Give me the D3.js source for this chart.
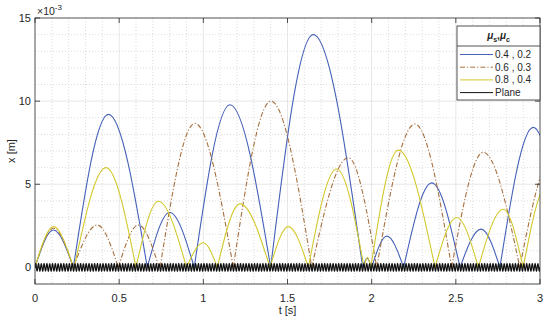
<!DOCTYPE html>
<html>
<head>
<meta charset="utf-8">
<script src="https://cdn.jsdelivr.net/npm/d3@7"></script>
<style>
body { margin: 0; background: #fff; }
text { font-family: "Liberation Sans", Arial, sans-serif; fill: #262626; }
</style>
</head>
<body>
<div id="chart"></div>
<script>
// arches: [start t, peak t, peak x (1e-3 m), end t]
const blueArches = [
  [0, 0.109, 2.25, 0.228],
  [0.228, 0.436, 9.2, 0.667],
  [0.667, 0.80, 3.3, 0.946],
  [0.946, 1.158, 9.78, 1.40],
  [1.40, 1.653, 14.0, 1.947],
  [1.947, 1.972, 0.55, 2.0],
  [2.0, 2.09, 1.88, 2.19],
  [2.19, 2.357, 5.08, 2.525],
  [2.525, 2.65, 2.3, 2.762],
  [2.762, 2.96, 8.42, 3.16]
];
const brownArches = [
  [0, 0.11, 2.35, 0.228],
  [0.228, 0.37, 2.55, 0.495],
  [0.495, 0.614, 2.55, 0.738],
  [0.743, 0.95, 8.66, 1.178],
  [1.178, 1.402, 10.0, 1.644],
  [1.644, 1.861, 6.6, 2.03],
  [2.03, 2.257, 8.62, 2.475],
  [2.475, 2.663, 6.92, 2.88],
  [2.88, 3.08, 6.8, 3.28]
];
const yellowArches = [
  [0, 0.11, 2.45, 0.228],
  [0.233, 0.422, 6.0, 0.60],
  [0.60, 0.733, 3.98, 0.90],
  [0.90, 1.0, 1.48, 1.083],
  [1.083, 1.218, 3.82, 1.396],
  [1.396, 1.505, 2.45, 1.624],
  [1.624, 1.792, 5.92, 1.955],
  [1.955, 1.975, 0.6, 1.995],
  [1.995, 2.158, 7.05, 2.376],
  [2.376, 2.505, 3.0, 2.634],
  [2.634, 2.782, 3.5, 2.90],
  [2.90, 3.04, 4.9, 3.18]
];
// plane oscillation
const planeAmplitude = 0.22;   // 1e-3 m
const planeFrequency = 60;     // Hz

const xTicks = [0, 0.5, 1, 1.5, 2, 2.5, 3];
const yTicks = [0, 5, 10, 15];
const legendLabels = ["0.4 , 0.2", "0.6 , 0.3", "0.8 , 0.4", "Plane"];

const width = 550, height = 321;
const margin = { top: 18, right: 10, bottom: 37, left: 35 };

const x = d3.scaleLinear().domain([0, 3]).range([margin.left, width - margin.right]);
const y = d3.scaleLinear().domain([-1, 15]).range([height - margin.bottom, margin.top]);

const svg = d3.select("#chart").append("svg")
  .attr("width", width)
  .attr("height", height);

svg.append("defs").append("clipPath").attr("id", "plotclip")
  .append("rect")
  .attr("x", x(0)).attr("y", y(15))
  .attr("width", x(3) - x(0)).attr("height", y(-1) - y(15));

// grid
const minorX = d3.range(1, 30).map(d => d / 10).filter(d => Math.abs(d * 2 - Math.round(d * 2)) > 1e-6);
const minorY = d3.range(-1, 16).filter(d => d % 5 !== 0);

const grid = svg.append("g");
grid.selectAll(".mx").data(minorX).join("line")
  .attr("x1", d => x(d)).attr("x2", d => x(d))
  .attr("y1", y(15)).attr("y2", y(-1))
  .attr("stroke", "#c4c4c4").attr("stroke-width", 0.6).attr("stroke-dasharray", "1,2");
grid.selectAll(".my").data(minorY).join("line")
  .attr("y1", d => y(d)).attr("y2", d => y(d))
  .attr("x1", x(0)).attr("x2", x(3))
  .attr("stroke", "#c4c4c4").attr("stroke-width", 0.6).attr("stroke-dasharray", "1,2");
grid.selectAll(".gx").data(xTicks.slice(1, -1)).join("line")
  .attr("x1", d => x(d)).attr("x2", d => x(d))
  .attr("y1", y(15)).attr("y2", y(-1))
  .attr("stroke", "#dcdcdc").attr("stroke-width", 0.7);
grid.selectAll(".gy").data(yTicks.slice(0, -1)).join("line")
  .attr("y1", d => y(d)).attr("y2", d => y(d))
  .attr("x1", x(0)).attr("x2", x(3))
  .attr("stroke", "#dcdcdc").attr("stroke-width", 0.7);

// series
const line = d3.line()
  .x(d => x(d[0]))
  .y(d => y(d[1]))
  .curve(d3.curveMonotoneX);

function archPoints(a) {
  return [[a[0], 0], [a[1], a[2]], [a[3], 0]];
}

const plot = svg.append("g").attr("clip-path", "url(#plotclip)");

const series = [
  { arches: blueArches, color: "#4561b8", dash: null },
  { arches: brownArches, color: "#a8703f", dash: "5,2,1.2,2" },
  { arches: yellowArches, color: "#d3c92c", dash: null }
];

// plane
const planeData = d3.range(0, 3.0001, 0.001).map(t => [t, planeAmplitude * Math.sin(2 * Math.PI * planeFrequency * t)]);

series.forEach(s => {
  plot.append("g").selectAll("path").data(s.arches).join("path")
    .attr("d", a => line(archPoints(a)))
    .attr("fill", "none")
    .attr("stroke", s.color)
    .attr("stroke-width", 1.1)
    .attr("stroke-dasharray", s.dash);
});

plot.append("path")
  .datum(planeData)
  .attr("d", d3.line().x(d => x(d[0])).y(d => y(d[1])))
  .attr("fill", "none")
  .attr("stroke", "#111")
  .attr("stroke-width", 1.2);

// axes box and ticks
svg.append("rect")
  .attr("x", x(0)).attr("y", y(15))
  .attr("width", x(3) - x(0)).attr("height", y(-1) - y(15))
  .attr("fill", "none").attr("stroke", "#262626").attr("stroke-width", 0.8);

const tickLen = 5;
const ticks = svg.append("g").attr("stroke", "#262626").attr("stroke-width", 0.8);
xTicks.forEach(t => {
  ticks.append("line").attr("x1", x(t)).attr("x2", x(t)).attr("y1", y(-1)).attr("y2", y(-1) - tickLen);
  ticks.append("line").attr("x1", x(t)).attr("x2", x(t)).attr("y1", y(15)).attr("y2", y(15) + tickLen);
});
yTicks.forEach(t => {
  ticks.append("line").attr("y1", y(t)).attr("y2", y(t)).attr("x1", x(0)).attr("x2", x(0) + tickLen);
  ticks.append("line").attr("y1", y(t)).attr("y2", y(t)).attr("x1", x(3)).attr("x2", x(3) - tickLen);
});

svg.append("g").selectAll("text").data(xTicks).join("text")
  .attr("x", d => x(d)).attr("y", y(-1) + 18)
  .attr("text-anchor", "middle")
  .attr("font-size", 11)
  .text(d => d);

svg.append("g").selectAll("text").data(yTicks).join("text")
  .attr("x", x(0) - 4).attr("y", d => y(d) + 4)
  .attr("text-anchor", "end")
  .attr("font-size", 11)
  .text(d => d);

// exponent
const expo = svg.append("text").attr("x", x(0) + 2).attr("y", 15).attr("font-size", 10.5);
expo.append("tspan").text("\u00d710");
expo.append("tspan").attr("dy", -5).attr("font-size", 8).text("-3");

// axis labels
svg.append("text")
  .attr("x", (x(0) + x(3)) / 2).attr("y", 314)
  .attr("text-anchor", "middle").attr("font-size", 11)
  .text("t [s]");
svg.append("text")
  .attr("transform", `translate(15,${(y(15) + y(-1)) / 2}) rotate(-90)`)
  .attr("text-anchor", "middle").attr("font-size", 11)
  .text("x [m]");

// legend
const lg = svg.append("g");
const lx = 457, ly = 26, lw = x(3) - 457, lh = 74;
lg.append("rect").attr("x", lx).attr("y", ly).attr("width", lw).attr("height", lh)
  .attr("fill", "#fff").attr("stroke", "#262626").attr("stroke-width", 0.8);
lg.append("line").attr("x1", lx).attr("x2", lx + lw).attr("y1", ly + 20).attr("y2", ly + 20)
  .attr("stroke", "#262626").attr("stroke-width", 0.8);
const title = lg.append("text").attr("x", lx + lw / 2).attr("y", ly + 13)
  .attr("text-anchor", "middle").attr("font-size", 10).attr("font-weight", "bold");
title.append("tspan").attr("font-style", "italic").text("\u03bc");
title.append("tspan").attr("dy", 3).attr("font-size", 7).text("s");
title.append("tspan").attr("dy", -3).text(",");
title.append("tspan").attr("font-style", "italic").text("\u03bc");
title.append("tspan").attr("dy", 3).attr("font-size", 7).text("c");

const legendStyles = [
  { color: "#4561b8", dash: null },
  { color: "#a8703f", dash: "5,2,1.2,2" },
  { color: "#d3c92c", dash: null },
  { color: "#111", dash: null }
];
legendLabels.forEach((lab, i) => {
  const yy = ly + 28.5 + i * 12.7;
  lg.append("line").attr("x1", lx + 3).attr("x2", lx + 36).attr("y1", yy).attr("y2", yy)
    .attr("stroke", legendStyles[i].color).attr("stroke-width", 1)
    .attr("stroke-dasharray", legendStyles[i].dash);
  lg.append("text").attr("x", lx + 38).attr("y", yy + 3.5).attr("font-size", 10).text(lab);
});
</script>
</body>
</html>
